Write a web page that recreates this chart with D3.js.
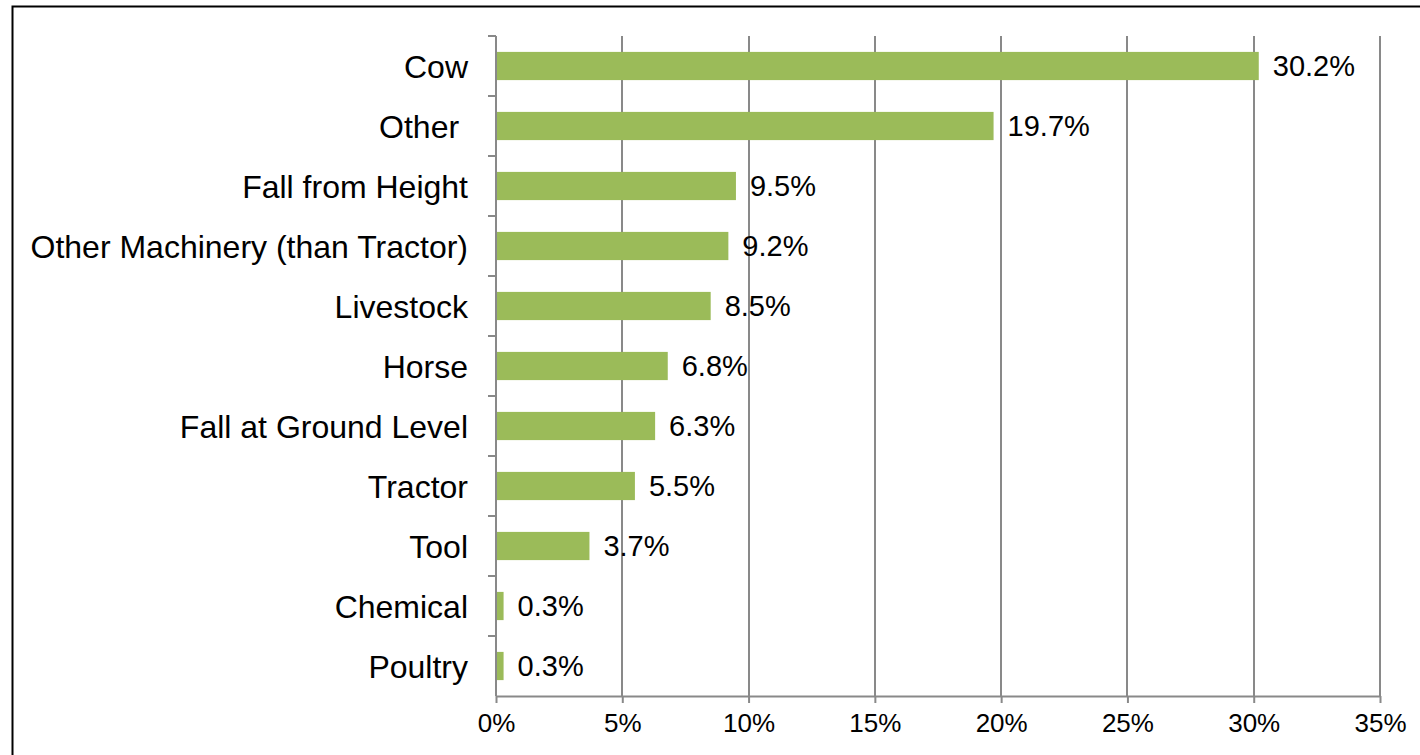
<!DOCTYPE html>
<html><head><meta charset="utf-8">
<script src="https://cdn.jsdelivr.net/npm/d3@7"></script>
<style>html,body{margin:0;padding:0;background:#fff;}svg{display:block;}</style>
</head><body>
<svg id="c" width="1420" height="755"></svg>
<script>
const categories = ["Cow","Other ","Fall from Height","Other Machinery (than Tractor)","Livestock","Horse","Fall at Ground Level","Tractor","Tool","Chemical","Poultry"];
const values = [30.2,19.7,9.5,9.2,8.5,6.8,6.3,5.5,3.7,0.3,0.3];
const valueLabels = ["30.2%","19.7%","9.5%","9.2%","8.5%","6.8%","6.3%","5.5%","3.7%","0.3%","0.3%"];
const xTicks = [0,5,10,15,20,25,30,35];
const xTickLabels = ["0%","5%","10%","15%","20%","25%","30%","35%"];

(function(){
const svg = d3.select("#c");
const font = "'Liberation Sans', Arial, sans-serif";
const mLeft = 496, mRight = 1380, mTop = 36, mBottom = 696;
const gridColor = "#898989", barColor = "#9BBB59";

svg.append("rect").attr("x",12.5).attr("y",6.5).attr("width",1420).attr("height",760)
  .attr("fill","none").attr("stroke","#000").attr("stroke-width",2);

const x = d3.scaleLinear().domain([0,35]).range([mLeft,mRight]);
const y = d3.scaleBand().domain(categories).range([mTop,mBottom]).paddingInner(0.53).paddingOuter(0.265);
const yb = d3.scaleBand().domain(categories).range([mTop,mBottom]);

svg.append("g").selectAll("line").data(xTicks.slice(1)).join("line")
  .attr("x1",d=>Math.round(x(d))).attr("x2",d=>Math.round(x(d)))
  .attr("y1",mTop).attr("y2",mBottom)
  .attr("stroke",gridColor).attr("stroke-width",2);

const xa = svg.append("g").attr("transform",`translate(0,${mBottom})`)
  .call(d3.axisBottom(x).tickValues(xTicks).tickFormat((d,i)=>xTickLabels[i]).tickSize(7).tickPadding(11).tickSizeOuter(0));
xa.select(".domain").attr("stroke",gridColor).attr("stroke-width",2);
xa.selectAll(".tick line").attr("stroke",gridColor).attr("stroke-width",2);
xa.selectAll("text").attr("font-family",font).attr("font-size",26).attr("fill","#000");

svg.append("line").attr("x1",mLeft).attr("x2",mLeft).attr("y1",mTop).attr("y2",mBottom)
  .attr("stroke",gridColor).attr("stroke-width",2);
const bounds = categories.map(c=>yb(c));
svg.append("g").selectAll("line").data(bounds).join("line")
  .attr("x1",mLeft-8).attr("x2",mLeft).attr("y1",d=>d).attr("y2",d=>d)
  .attr("stroke",gridColor).attr("stroke-width",2);

svg.append("g").selectAll("text").data(categories).join("text")
  .attr("x",mLeft-28).attr("y",d=>yb(d)+yb.bandwidth()/2)
  .attr("dy","0.36em").attr("text-anchor","end")
  .style("white-space","pre")
  .attr("font-family",font).attr("font-size",32).attr("fill","#000")
  .text(d=>d);

svg.append("g").selectAll("rect").data(values).join("rect")
  .attr("x",x(0)+1).attr("y",(d,i)=>y(categories[i]))
  .attr("width",d=>x(d)-x(0)-1).attr("height",y.bandwidth())
  .attr("fill",barColor);

svg.append("g").selectAll("text").data(values).join("text")
  .attr("x",d=>x(d)+14).attr("y",(d,i)=>yb(categories[i])+yb.bandwidth()/2)
  .attr("dy","0.36em")
  .attr("font-family",font).attr("font-size",29).attr("fill","#000")
  .text((d,i)=>valueLabels[i]);
})();
</script>
</body></html>
